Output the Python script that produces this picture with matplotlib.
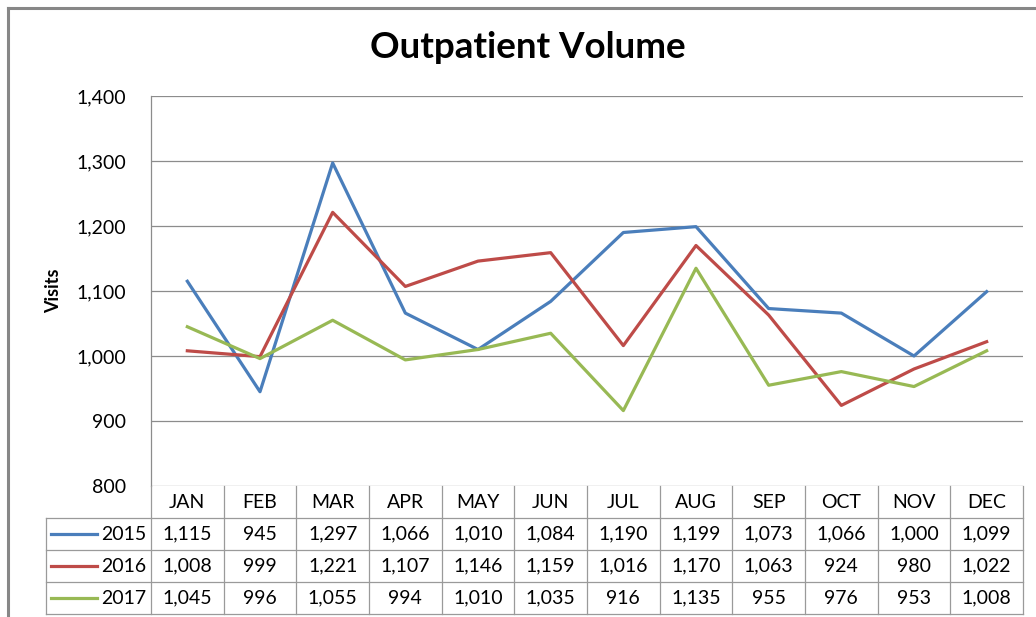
import matplotlib
matplotlib.use("Agg")
import matplotlib.pyplot as plt
from matplotlib.lines import Line2D
from matplotlib.transforms import blended_transform_factory

months = ["JAN", "FEB", "MAR", "APR", "MAY", "JUN", "JUL", "AUG", "SEP", "OCT", "NOV", "DEC"]
years = ["2015", "2016", "2017"]
v2015 = [1115, 945, 1297, 1066, 1010, 1084, 1190, 1199, 1073, 1066, 1000, 1099]
v2016 = [1008, 999, 1221, 1107, 1146, 1159, 1016, 1170, 1063, 924, 980, 1022]
v2017 = [1045, 996, 1055, 994, 1010, 1035, 916, 1135, 955, 976, 953, 1008]
series = [v2015, v2016, v2017]
colors = ["#4A7EBB", "#BE4B48", "#98B954"]
yticks = [800, 900, 1000, 1100, 1200, 1300, 1400]

plt.rcParams['font.family'] = ['Lato', 'DejaVu Sans']

W, H = 1036, 617
fig = plt.figure(figsize=(W / 100, H / 100), dpi=100)

def fx(px):
    return px / W

def fy(py):
    return 1 - py / H

left, right, top, bottom = 151, 1023, 96, 486
ax = fig.add_axes([fx(left), fy(bottom), fx(right - left), (bottom - top) / H])

x = list(range(len(months)))
for vals, c in zip(series, colors):
    ax.plot(x, vals, color=c, lw=2.3, solid_joinstyle='round')

ax.set_xlim(-0.5, len(months) - 0.5)
ax.set_ylim(800, 1400)
ax.set_yticks(yticks)
ax.set_yticklabels([f"{v:,}" for v in yticks], fontsize=14)
ax.tick_params(axis='y', length=0, pad=18)
ax.set_xticks([])
ax.yaxis.grid(True, color="#8C8C8C", lw=0.9)
ax.set_axisbelow(True)
for s in ["top", "right", "bottom"]:
    ax.spines[s].set_visible(False)
ax.spines["left"].set_color("#8C8C8C")
ax.spines["left"].set_linewidth(0.9)
ax.set_ylabel("Visits", fontsize=13, fontweight='bold', labelpad=10)

fig.text(fx(528), fy(48), "Outpatient Volume", ha='center', va='center',
         fontsize=26.5, fontweight='bold')

# Outer border (top and left)
gc = "#878787"
fig.add_artist(Line2D([fx(8), fx(1036)], [fy(8), fy(8)], color=gc, lw=2.2))
fig.add_artist(Line2D([fx(8), fx(8)], [fy(8), fy(617)], color=gc, lw=2.2))

# Table
tc = "#9A9A9A"
tlw = 0.9
row_y = [486, 518, 550, 582, 614]
tab_left = 46
trans = blended_transform_factory(ax.transData, fig.transFigure)

def hline(y, x0, x1):
    fig.add_artist(Line2D([fx(x0), fx(x1)], [fy(y), fy(y)], color=tc, lw=tlw))

for yy in row_y[1:]:
    hline(yy, tab_left, right)
fig.add_artist(Line2D([fx(tab_left), fx(tab_left)], [fy(row_y[1]), fy(row_y[4])], color=tc, lw=tlw))
for i in range(len(months) + 1):
    xb = i - 0.5
    fig.add_artist(Line2D([xb, xb], [fy(row_y[0]), fy(row_y[4])], color=tc, lw=tlw,
                          transform=trans))

fs = 14
for i, m in enumerate(months):
    fig.text(i, fy((row_y[0] + row_y[1]) / 2), m, transform=trans, ha='center',
             va='center', fontsize=fs)
for r, (yr, vals, c) in enumerate(zip(years, series, colors)):
    yc = fy((row_y[r + 1] + row_y[r + 2]) / 2)
    for i, v in enumerate(vals):
        fig.text(i, yc, f"{v:,}", transform=trans, ha='center', va='center', fontsize=fs)
    fig.add_artist(Line2D([fx(51), fx(97)], [yc, yc], color=c, lw=2.3))
    fig.text(fx(146), yc, yr, ha='right', va='center', fontsize=fs)

fig.savefig("out.png", dpi=100)
